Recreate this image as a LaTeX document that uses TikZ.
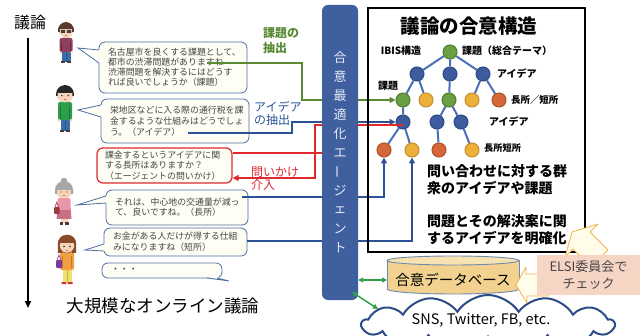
\documentclass[tikz,border=0pt]{standalone}
\usepackage{fontspec}
\usepackage{graphicx}
\setmainfont{Noto Sans CJK JP}
\usetikzlibrary{shapes.symbols,arrows.meta,calc}

\definecolor{bubbleline}{HTML}{4E6FA3}
\definecolor{bubblefill}{HTML}{FEFEF4}
\definecolor{bodytext}{HTML}{454545}
\definecolor{agentblue}{HTML}{3F5F9E}
\definecolor{agenttext}{HTML}{E4EAF5}
\definecolor{extractgreen}{HTML}{5B8A35}
\definecolor{extractblue}{HTML}{2C5296}
\definecolor{askred}{HTML}{E0282E}
\definecolor{nodegreen}{HTML}{6AA043}
\definecolor{nodegreenline}{HTML}{4E7D30}
\definecolor{nodeblue}{HTML}{3C5C9E}
\definecolor{nodeblueline}{HTML}{2E4A85}
\definecolor{nodeyellow}{HTML}{EDB03B}
\definecolor{nodeyellowline}{HTML}{C68E2A}
\definecolor{nodeorange}{HTML}{D5673A}
\definecolor{nodeorangeline}{HTML}{AE4F2A}
\definecolor{treeedge}{HTML}{4A70B8}
\definecolor{dbfill}{HTML}{F2D28E}
\definecolor{dbtop}{HTML}{F7E2B2}
\definecolor{dbline}{HTML}{6F88B0}
\definecolor{linkgreen}{HTML}{35A04C}
\definecolor{elsifill}{HTML}{F6D5C4}
\definecolor{hintfill}{HTML}{FFFDEA}
\definecolor{hintline}{HTML}{F2B24C}
\definecolor{cloudline}{HTML}{2D4C85}
\definecolor{skin}{HTML}{F7D3B8}
\definecolor{jeans}{HTML}{3A6EA8}
\definecolor{jeansdark}{HTML}{2A5080}
\definecolor{shoe}{HTML}{4A3A30}
\definecolor{maroonshirt}{HTML}{8E3E5E}
\definecolor{maroondark}{HTML}{6E2846}
\definecolor{brownhair}{HTML}{5A3A2A}
\definecolor{mouth}{HTML}{C86E64}
\definecolor{greenshirt}{HTML}{2E9E4E}
\definecolor{greendark}{HTML}{1E7837}
\definecolor{pinktop}{HTML}{EA96AA}
\definecolor{pinkskirt}{HTML}{C86E87}
\definecolor{brownbag}{HTML}{963C3C}
\definecolor{greyhair}{HTML}{A6A6A6}
\definecolor{yellowlegs}{HTML}{F0E06E}
\definecolor{yellowdark}{HTML}{C8B446}
\definecolor{redshoe}{HTML}{D2323C}
\definecolor{orangetop}{HTML}{F0A040}
\definecolor{orangedark}{HTML}{C87828}
\definecolor{purplebag}{HTML}{7A3A9A}
\definecolor{auburn}{HTML}{8A4A2A}

\newcommand\vbar{\rotatebox[origin=c]{90}{ー}}

\begin{document}
\begin{tikzpicture}[x=1pt,y=-1pt,
  bubble/.style={draw=bubbleline, fill=bubblefill, rounded corners=6pt, line width=0.8pt,
    align=left, inner xsep=9pt, inner ysep=2pt, text=bodytext},
  askbubble/.style={bubble, draw=askred, line width=1.2pt, inner xsep=8pt},
  tail/.style={draw=bubbleline, line width=0.8pt},
  arr/.style={-{Triangle[length=6pt,width=6pt]}},
  greenlink/.style={draw=extractgreen, line width=2pt, arr},
  bluelink/.style={draw=extractblue, line width=2pt, arr},
  redlink/.style={draw=askred, line width=1.8pt},
  dblink/.style={draw=linkgreen, line width=1.5pt,
    {Triangle[length=5pt,width=5pt]}-{Triangle[length=5pt,width=5pt]}},
  tnode/.style={circle, minimum size=14pt, inner sep=0pt, line width=1pt},
  tgreen/.style={tnode, fill=nodegreen, draw=nodegreenline},
  tblue/.style={tnode, fill=nodeblue, draw=nodeblueline},
  tyellow/.style={tnode, fill=nodeyellow, draw=nodeyellowline},
  torange/.style={tnode, fill=nodeorange, draw=nodeorangeline},
  tedge/.style={draw=treeedge, line width=2pt},
  tlabel/.style={font=\bfseries\fontsize{10}{10}\selectfont, inner sep=0pt},
  agenttextstyle/.style={text=agenttext, font=\fontsize{13}{13}\selectfont, inner sep=0pt},
  bigbold/.style={font=\bfseries\fontsize{14}{17}\selectfont, align=left, inner sep=0pt, anchor=west},
  hintarrow/.style={fill=hintfill, draw=hintline, line width=0.8pt, line join=round}
]
\useasboundingbox (0,0) rectangle (644,336);
\clip (0,0) rectangle (644,336);
\fill[white] (0,0) rectangle (644,336);

% ---------- time line of the discussion ----------
\coordinate (tlstart) at (28,38);
\coordinate (tlend) at (28,308);
\draw[line width=1.8pt, -{Triangle[length=7pt,width=6pt]}] (tlstart) -- (tlend);
\node[font=\fontsize{16}{16}\selectfont, inner sep=0pt] (ronlabel) at (30,22) {議論};
\node[font=\fontsize{17.5}{18}\selectfont, inner sep=0pt] (bigtitle) at (163,306) {大規模なオンライン議論};

% ---------- participants ----------
% man with glasses
\begin{scope}[shift={(66,30)}]
  \fill[jeans] (-4.5,20) rectangle (4.5,32);
  \draw[jeansdark, line width=0.5pt] (0,23) -- (0,32);
  \fill[shoe] (-5,31.5) rectangle (-0.6,33.5);
  \fill[shoe] (0.6,31.5) rectangle (5,33.5);
  \fill[skin] (-3,6) rectangle (3,9);
  \fill[maroonshirt, rounded corners=2pt] (-6.5,8) rectangle (6.5,22);
  \draw[maroondark, line width=0.5pt] (-4.3,12) -- (-4.3,21) (4.3,12) -- (4.3,21);
  \fill[skin] (-5.5,22.5) circle (1.4) (5.5,22.5) circle (1.4);
  \fill[skin] (0,0) circle (7.5);
  \begin{scope}\clip (-9,-9) rectangle (9,-1.5); \fill[brownhair] (0,0) circle (7.9); \end{scope}
  \fill[brownhair] (-7.9,-1.5) rectangle (-6.3,2);
  \fill[brownhair] (6.3,-1.5) rectangle (7.9,2);
  \fill[black!75] (-5.2,0) rectangle (-0.8,2.8) (0.8,0) rectangle (5.2,2.8);
  \fill[mouth] (-1.2,5) rectangle (1.2,5.6);
\end{scope}
% boy in green
\begin{scope}[shift={(65,94)}]
  \fill[jeans] (-4.5,24) rectangle (4.5,37);
  \draw[jeansdark, line width=0.5pt] (0,27) -- (0,37);
  \fill[shoe] (-5,36.5) rectangle (-0.6,38.5);
  \fill[shoe] (0.6,36.5) rectangle (5,38.5);
  \fill[greenshirt, rounded corners=2pt] (-7,8) rectangle (7,26);
  \draw[greendark, line width=0.5pt] (-4.6,12) -- (-4.6,25) (4.6,12) -- (4.6,25);
  \fill[skin] (-6,26.5) circle (1.5) (6,26.5) circle (1.5);
  \fill[skin] (0,0) circle (8.5);
  \begin{scope}\clip (-10,-10) rectangle (10,-1); \fill[black!85] (0,0) circle (8.9); \end{scope}
  \fill[black!85] (-8.9,-1) rectangle (-7.3,2) (7.3,-1) rectangle (8.9,2);
  \fill[black!80] (-3.2,1.5) circle (0.8) (3.2,1.5) circle (0.8);
  \fill[mouth] (-1.2,5) rectangle (1.2,5.6);
\end{scope}
% elderly woman
\begin{scope}[shift={(64,190)}]
  \fill[skin] (-3.5,28) rectangle (3.5,33);
  \fill[shoe] (-4.5,32.5) rectangle (-0.6,35);
  \fill[shoe] (0.6,32.5) rectangle (4.5,35);
  \fill[pinkskirt] (-6.5,18) -- (6.5,18) -- (7.5,29) -- (-7.5,29) -- cycle;
  \fill[pinktop, rounded corners=2pt] (-6.5,8) rectangle (6.5,20);
  \fill[brownbag, rounded corners=1pt] (-10,17) rectangle (-4.5,24);
  \draw[brownbag, line width=0.6pt] (-9,17) -- (-7.2,12) -- (-5.5,17);
  \fill[skin] (0,0) circle (8.5);
  \begin{scope}\clip (-10,-11) rectangle (10,0); \fill[greyhair] (0,0) circle (9); \end{scope}
  \fill[greyhair] (-9,-1) rectangle (-7,4) (7,-1) rectangle (9,4);
  \fill[greyhair] (0,-9) circle (3.2);
  \fill[black!70] (-3,2) circle (0.7) (3,2) circle (0.7);
  \fill[mouth] (-1.2,5.3) rectangle (1.2,5.9);
\end{scope}
% woman in orange
\begin{scope}[shift={(67,244)}]
  \fill[yellowlegs] (-4.5,24) rectangle (4.5,38);
  \draw[yellowdark, line width=0.5pt] (0,26) -- (0,38);
  \fill[redshoe] (-5.5,38) rectangle (-0.6,40) (0.6,38) rectangle (5.5,40);
  \fill[orangetop, rounded corners=2pt] (-7,8) rectangle (7,26);
  \draw[orangedark, line width=0.5pt] (-4.6,12) -- (-4.6,24) (4.6,12) -- (4.6,24);
  \fill[purplebag, rounded corners=1pt] (-11,16) rectangle (-5,24);
  \draw[purplebag, line width=0.6pt] (-10,16) -- (-8,11) -- (-6,16);
  \fill[auburn] (0,0) circle (9.2);
  \fill[auburn] (-9.2,0) rectangle (-5,9) (5,0) rectangle (9.2,9);
  \fill[skin] (0,1.5) circle (7.2);
  \begin{scope}\clip (-10,-10) rectangle (10,-1); \fill[auburn] (0,0) circle (9.2); \end{scope}
  \fill[black!80] (-3,2.5) circle (0.8) (3,2.5) circle (0.8);
  \fill[mouth] (-1.2,6) rectangle (1.2,6.6);
\end{scope}

% ---------- speech bubbles ----------
\node[bubble, text width=130pt, minimum height=51pt, font=\fontsize{8.9}{10}\selectfont]
  (b1) at (173,67.5) {名古屋市を良くする課題として、\\都市の渋滞問題がありますね\\渋滞問題を解決するにはどうす\\れば良いでしょうか（課題）};
\fill[bubblefill] (100,50) -- (78,48) -- (100,63) -- cycle;
\draw[tail] (99,50) -- (78,48) -- (99,63);

\node[bubble, text width=130pt, minimum height=44pt, font=\fontsize{8.9}{11}\selectfont]
  (b2) at (175,121) {栄地区などに入る際の通行税を課\\金するような仕組みはどうでしょ\\う。（アイデア）};
\fill[bubblefill] (102,105) -- (78,110) -- (102,117) -- cycle;
\draw[tail] (101,105) -- (78,110) -- (101,117);

\node[askbubble, text width=119pt, minimum height=35pt, font=\fontsize{8.9}{10.5}\selectfont]
  (rb) at (164.5,165.5) {課金するというアイデアに関\\する長所はありますか？\\（エージェントの問いかけ）};

\node[bubble, text width=124pt, minimum height=35pt, font=\fontsize{8.9}{10}\selectfont]
  (b4) at (177,207.5) {それは、中心地の交通量が減っ\\て、良いですね。（長所）};
\fill[bubblefill] (107,196) -- (77,205) -- (107,203) -- cycle;
\draw[tail] (106,196) -- (77,205) -- (106,203);

\node[bubble, text width=125pt, minimum height=28pt, font=\fontsize{8.9}{11}\selectfont]
  (b5) at (175.5,242) {お金がある人だけが得する仕組\\みになりますね（短所）};
\fill[bubblefill] (105,244) -- (85,250) -- (105,251) -- cycle;
\draw[tail] (104,244) -- (85,250) -- (104,251);

\node[bubble, text width=102pt, minimum height=15pt, font=\fontsize{8.9}{10}\selectfont]
  (b6) at (162,270.5) {・・・};
\fill[bubblefill] (207,277) -- (229,281) -- (217,277) -- cycle;
\draw[tail] (207,278) -- (229,281) -- (217,278);

% ---------- extraction and intervention links ----------
\coordinate (g1) at (207,63);
\coordinate (bl2) at (188,133);
\coordinate (bl4) at (242,197);
\coordinate (bl5) at (247,241);
\coordinate (askout) at (340,153);
\coordinate (askin) at (403,125);

% tree node positions used by the links
\node[tgreen] (n21) at (403,100) {};
\node[tblue] (n31) at (403,122) {};
\node[torange] (n41) at (384,150) {};
\node[tyellow] (n42) at (412,150) {};

\draw[greenlink] (g1) -- ++(95,0) |- (n21);
\draw[bluelink] (bl2) -- ++(104,0) |- (n31);
\draw[bluelink, line width=1.8pt] (bl4) -| (n41);
\draw[bluelink, line width=1.8pt] (bl5) -| (n42);
\draw[redlink] (askout) -- (rb.east |- askout);
\draw[redlink, arr] (askin) -- (315,125) |- (rb.east |- 0,178);

\node[font=\bfseries\fontsize{12}{15}\selectfont, text=extractgreen, align=left, anchor=west, inner sep=0pt]
  (glabel) at (263,40.5) {課題の\\抽出};
\node[font=\fontsize{12}{13}\selectfont, text=extractblue, align=left, anchor=west, inner sep=0pt]
  (blabel) at (254,113.5) {アイデア\\の抽出};
\node[font=\fontsize{12}{13}\selectfont, text=askred, align=left, anchor=west, inner sep=0pt]
  (rlabel) at (251,178.5) {問いかけ\\介入};

% ---------- agent ----------
\node[fill=agentblue, rounded corners=6pt, minimum width=36pt, minimum height=295pt, inner sep=0pt]
  (agent) at (340,152.5) {};
\foreach \ch [count=\k] in {合,意,最,適,化,エ,\vbar,ジ,ェ,ン,ト}
  \node[agenttextstyle] (agch\k) at (340,39+19*\k) {\ch};

% ---------- consensus structure ----------
\node[draw=black, line width=1.3pt, minimum width=217pt, minimum height=244pt, inner sep=0pt]
  (struct) at (476.5,130) {};
\node[font=\bfseries\fontsize{19.5}{20}\selectfont, inner sep=0pt] (stitle) at (469,26) {議論の合意構造};

\node[tgreen] (r) at (450,52) {};
\node[tblue] (n11) at (417,74) {};
\node[tblue] (n12) at (450,74) {};
\node[tblue] (n13) at (483,74) {};
\node[tyellow] (n22) at (426,100) {};
\node[tgreen] (n23) at (449,100) {};
\node[tyellow] (n24) at (472,100) {};
\node[torange] (n25) at (499,100) {};
\node[tblue] (n32) at (437,122) {};
\node[tblue] (n33) at (461,122) {};
\node[torange] (n43) at (439,150) {};
\node[tyellow] (n44) at (472,150) {};

\draw[tedge] (r) -- (n11) (r) -- (n12) (r) -- (n13)
  (n11) -- (n21) (n11) -- (n22) (n12) -- (n23) (n13) -- (n24) (n13) -- (n25)
  (n21) -- (n31) (n23) -- (n32) (n23) -- (n33)
  (n31) -- (n41) (n31) -- (n42) (n32) -- (n43) (n33) -- (n44);

\node[tlabel] (ibis) at (401,51) {IBIS構造};
\node[tlabel, anchor=west] (lroot) at (462,51) {課題（総合テーマ）};
\node[tlabel, anchor=west] (lidea1) at (497,74) {アイデア};
\node[tlabel] (lissue) at (388,86) {課題};
\node[tlabel, anchor=west, font=\bfseries\fontsize{9.4}{10}\selectfont] (lpc1) at (511,100) {長所／短所};
\node[tlabel, anchor=west] (lidea2) at (489,122) {アイデア};
\node[tlabel, anchor=west, font=\bfseries\fontsize{9.2}{10}\selectfont] (lpc2) at (484,148) {長所短所};

\node[bigbold] (s1) at (427,179.5) {問い合わせに対する群\\衆のアイデアや課題};
\node[bigbold] (s2) at (427,229.5) {問題とその解決案に関\\するアイデアを明確化};

% ---------- consensus database ----------
\fill[dbfill] (387,260.5) rectangle (519,289);
\fill[dbfill] (453,289) ellipse [x radius=66, y radius=5];
\draw[dbline, line width=0.9pt] (387,260.5) -- (387,289) (519,260.5) -- (519,289);
\begin{scope}
  \clip (380,289) rectangle (526,300);
  \draw[dbline, line width=0.9pt] (453,289) ellipse [x radius=66, y radius=5];
\end{scope}
\filldraw[fill=dbtop, draw=dbline, line width=0.9pt] (453,260.5) ellipse [x radius=66, y radius=4.5];
\node[font=\fontsize{14.5}{15}\selectfont, inner sep=0pt] (db) at (453,280) {合意データベース};
\coordinate (dbleft) at (387,280);

% ---------- SNS cloud ----------
\node[cloud, cloud puffs=13, cloud puff arc=115, aspect=5, draw=cloudline, line width=2pt, fill=white,
  minimum width=252pt, minimum height=58pt, inner sep=0pt]
  (sns) at (488,324) {};
\node[font=\fontsize{14.5}{15}\selectfont, inner sep=0pt] (snstext) at (481,320) {SNS, Twitter, FB, etc.};

\coordinate (agentlow) at (352,292);
\coordinate (cloudtip) at (378,309);
\draw[dblink] (agent.east |- dbleft) -- (dbleft);
\draw[dblink] (agentlow) -- (cloudtip);

% ---------- ELSI review ----------
\filldraw[hintarrow] (516,285) -- (526,267) -- (526,274) -- (548,274) -- (548,296) -- (527,296) -- (527,303) -- cycle;
\filldraw[hintarrow] (572,232) -- (598,224) -- (590,232) -- (608,250) -- (591,267) -- (573,249) -- (565,257) -- cycle;
\node[fill=elsifill, minimum width=103pt, minimum height=40pt, inner sep=0pt, align=center,
  font=\fontsize{13}{17}\selectfont, text=bodytext] (elsi) at (588.5,275) {ELSI委員会で\\チェック};
\end{tikzpicture}
\end{document}
